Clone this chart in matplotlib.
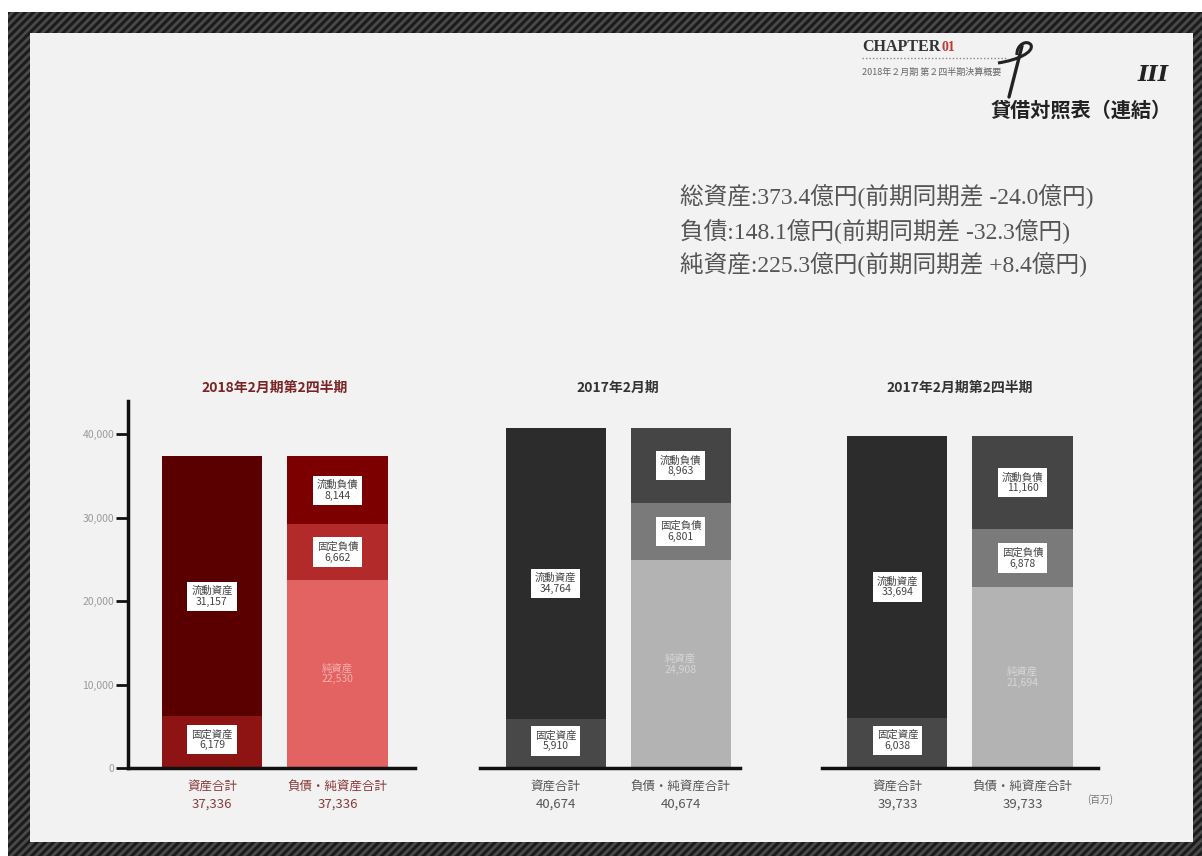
import matplotlib
matplotlib.use('Agg')
import matplotlib.pyplot as plt
from matplotlib.patches import Rectangle, PathPatch
from matplotlib.path import Path

plt.rcParams['font.family'] = ['Noto Sans CJK JP', 'DejaVu Sans']
plt.rcParams['hatch.linewidth'] = 2.0

# ---------------- data ----------------
periods = ['2018年2月期第2四半期', '2017年2月期', '2017年2月期第2四半期']
fixed_assets = [6179, 5910, 6038]
current_assets = [31157, 34764, 33694]
net_assets = [22530, 24910, 21694]
fixed_liab = [6662, 6801, 6878]
current_liab = [8144, 8963, 11160]
net_asset_labels = ['22,530', '24,908', '21,694']
total_labels = ['37,336', '40,674', '39,733']
bar_names = ['資産合計', '負債・純資産合計']
yticks = [0, 10000, 20000, 30000, 40000]
ytick_labels = ['0', '10,000', '20,000', '30,000', '40,000']
summary_lines = ['総資産:373.4億円(前期同期差 -24.0億円)',
                 '負債:148.1億円(前期同期差 -32.3億円)',
                 '純資産:225.3億円(前期同期差 +8.4億円)']

# ---------------- styling ----------------
red_cols = dict(fa='#8e1313', ca='#5a0000', na='#e36262', fl='#b32a2a', cl='#7c0000',
                title='#7a2424', sub='#8a3a3a', nalab='#f6b0b0')
gray_cols = dict(fa='#484848', ca='#2c2c2c', na='#b3b3b3', fl='#7a7a7a', cl='#454545',
                 title='#333333', sub='#555555', nalab='#d6d6d6')
palettes = [red_cols, gray_cols, gray_cols]

W, H = 1202, 856
fig = plt.figure(figsize=(W / 100, H / 100), dpi=100)
fig.patch.set_facecolor('white')

# textured dark frame + light card
fig.patches.append(Rectangle((8 / W, 0), 1 - 8 / W, 1 - 12 / H, transform=fig.transFigure,
                             facecolor='#1c1c1c', edgecolor='#4a4a4a', hatch='////',
                             linewidth=0, zorder=0))
fig.patches.append(Rectangle((30 / W, 1 - 842 / H), (1193 - 30) / W, (842 - 33) / H,
                             transform=fig.transFigure, facecolor='#f2f2f2',
                             edgecolor='none', zorder=1))

Y0_PX = 768.0
PX_PER_UNIT = 0.00835
YMAX = 44000
top_px = Y0_PX - YMAX * PX_PER_UNIT

panels = [(128, 415, -0.669, 1.618),
          (480, 740, -0.604, 1.476),
          (822, 1098, -0.604, 1.604)]

def val_at_px(py):
    return (Y0_PX - py) / PX_PER_UNIT

for i, (x0, x1, xl0, xl1) in enumerate(panels):
    pal = palettes[i]
    ax = fig.add_axes([x0 / W, 1 - Y0_PX / H, (x1 - x0) / W, (Y0_PX - top_px) / H])
    ax.set_facecolor('none')
    ax.set_zorder(5)
    ax.set_xlim(xl0, xl1)
    ax.set_ylim(0, YMAX)
    for s in ['top', 'right']:
        ax.spines[s].set_visible(False)
    ax.spines['bottom'].set_linewidth(2.5)
    ax.spines['bottom'].set_color('#111111')
    ax.set_xticks([])
    if i == 0:
        ax.spines['left'].set_linewidth(2.5)
        ax.spines['left'].set_color('#111111')
        ax.set_yticks(yticks)
        ax.set_yticklabels(ytick_labels)
        ax.tick_params(axis='y', direction='out', length=9, width=2, color='#111111',
                       labelsize=7.5, labelcolor='#999999', pad=1)
    else:
        ax.spines['left'].set_visible(False)
        ax.set_yticks([])

    w = 0.8
    # assets bar
    ax.bar(0, fixed_assets[i], width=w, color=pal['fa'], zorder=2)
    ax.bar(0, current_assets[i], width=w, bottom=fixed_assets[i], color=pal['ca'], zorder=2)
    # liabilities + net assets bar
    ax.bar(1, net_assets[i], width=w, color=pal['na'], zorder=2)
    ax.bar(1, fixed_liab[i], width=w, bottom=net_assets[i], color=pal['fl'], zorder=2)
    ax.bar(1, current_liab[i], width=w, bottom=net_assets[i] + fixed_liab[i],
           color=pal['cl'], zorder=2)

    box = dict(boxstyle='square,pad=0.4', fc='white', ec='none')
    lab_kw = dict(ha='center', va='center', fontsize=7.5, color='#444444',
                  linespacing=1.1, bbox=box, zorder=4)
    ax.text(0, fixed_assets[i] / 2 + 300, f'固定資産\n{fixed_assets[i]:,}', **lab_kw)
    ax.text(0, fixed_assets[i] + current_assets[i] / 2 - 1200,
            f'流動資産\n{current_assets[i]:,}', **lab_kw)
    ax.text(1, net_assets[i] + fixed_liab[i] / 2, f'固定負債\n{fixed_liab[i]:,}', **lab_kw)
    ax.text(1, net_assets[i] + fixed_liab[i] + current_liab[i] / 2,
            f'流動負債\n{current_liab[i]:,}', **lab_kw)
    ax.text(1, net_assets[i] / 2, f'純資産\n{net_asset_labels[i]}', ha='center',
            va='center', fontsize=7.5, color=pal['nalab'], linespacing=1.1, zorder=4)

    ax.text(0.5, val_at_px(388), periods[i], ha='center', va='center', fontsize=10,
            fontweight='bold', color=pal['title'], clip_on=False)
    for j in range(2):
        ax.text(j, val_at_px(786), bar_names[j], ha='center', va='center', fontsize=9,
                color=pal['sub'], clip_on=False)
        ax.text(j, val_at_px(804), total_labels[i], ha='center', va='center', fontsize=9.5,
                color=pal['sub'], clip_on=False)

fig.text(1100 / W, 1 - 800 / H, '(百万)', ha='center', va='center', fontsize=7,
         color='#777777', zorder=6)

# ---------------- header ----------------
over = fig.add_axes([0, 0, 1, 1])
over.set_xlim(0, W)
over.set_ylim(H, 0)
over.axis('off')
over.set_zorder(6)

serif = ['Liberation Serif', 'Noto Sans CJK JP']
t_ch = over.text(862, 47, 'CHAPTER', ha='left', va='center', fontsize=11.5,
                 fontweight='bold', family=serif, color='#333333')
over.annotate('01', xy=(1, 0.5), xycoords=t_ch, xytext=(1, 0), textcoords='offset points',
              ha='left', va='center', fontsize=10, fontweight='bold', family=serif,
              color='#c0392b')
over.plot([862, 1006], [58, 58], color='#888888', lw=1, linestyle=(0, (1, 1.5)))
over.text(862, 72, '2018年２月期 第２四半期決算概要', ha='left', va='center',
          fontsize=6.5, color='#666666')
# logo (decorative cursive P)
over.plot([1009, 1022], [97, 46], color='#222222', lw=2.4, solid_capstyle='round')
logo = Path([(998, 63), (1018, 60), (1034, 52), (1031, 45),
             (1027, 39), (1016, 45), (1017, 55)],
            [Path.MOVETO, Path.CURVE4, Path.CURVE4, Path.CURVE4,
             Path.CURVE4, Path.CURVE4, Path.CURVE4])
over.add_patch(PathPatch(logo, facecolor='none', edgecolor='#222222', lw=2.2))
over.text(1153, 75, 'III', ha='center', va='center', fontsize=16,
          family=['DejaVu Serif'], style='italic', fontweight='bold', color='#222222')
over.text(1172, 110, '貸借対照表（連結）', ha='right', va='center', fontsize=14.5,
          fontweight='bold', color='#222222')

for k, line in enumerate(summary_lines):
    over.text(680, 197 + 34 * k, line, ha='left', va='center', fontsize=17,
              family=serif, color='#555555')

fig.savefig('out.png', dpi=100, facecolor=fig.get_facecolor())
